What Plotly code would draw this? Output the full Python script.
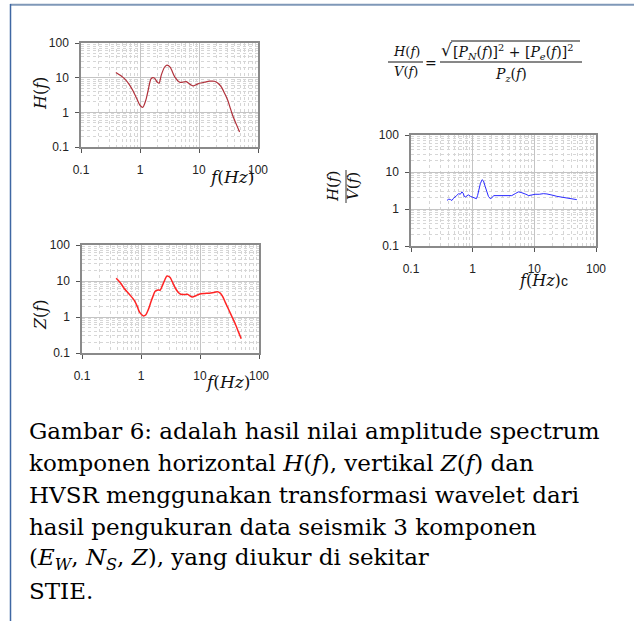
import plotly.graph_objects as go

W, H = 634, 621

# ---------------- data ----------------
tick_vals = [0.1, 1, 10, 100]
tick_text = ["0.1", "1", "10", "100"]

h_freq = [0.39, 0.47, 0.55, 0.65, 0.76, 0.88, 1.0, 1.12, 1.25, 1.37, 1.55, 1.75,
          1.95, 2.1, 2.3, 2.6, 2.86, 3.26, 3.86, 4.7, 5.5, 6.1, 7.0, 7.9, 9.0,
          10.2, 12.5, 15, 18.3, 21, 23.7, 27, 30.8, 34, 37.5, 43, 48.7]
h_amp = [14.2, 11.5, 9.2, 6.5, 4.2, 2.5, 1.6, 1.4, 2.2, 4.2, 9.5, 9.8,
         7.5, 6.9, 12, 20, 23, 19.8, 10.7, 7.4, 7.5, 7.7, 6.5, 5.8, 6.3,
         6.9, 7.4, 7.9, 7.9, 6.9, 5.5, 3.6, 2.2, 1.3, 0.78, 0.45, 0.27]

z_freq = [0.38, 0.45, 0.52, 0.64, 0.77, 0.86, 0.94, 1.03, 1.1, 1.21, 1.33, 1.47,
          1.6, 1.74, 1.95, 2.12, 2.32, 2.55, 2.75, 3.09, 3.5, 3.9, 4.3, 4.73,
          5.4, 6.1, 7.4, 8.5, 9.7, 12, 14.3, 17, 19.7, 22, 24, 27, 31, 35, 40,
          45, 49.9]
z_amp = [11.9, 8.8, 6.2, 4.2, 2.9, 2.0, 1.38, 1.15, 1.07, 1.16, 1.6, 2.6,
         3.8, 5.2, 5.6, 5.6, 7.7, 11, 13.8, 12.7, 8.5, 6.0, 4.8, 4.3,
         4.2, 4.3, 3.6, 3.9, 4.3, 4.5, 4.6, 4.8, 5.0, 4.6, 3.8, 2.5, 1.54, 1.0,
         0.62, 0.38, 0.25]

hv_freq = [0.384, 0.41, 0.435, 0.46, 0.49, 0.52, 0.55, 0.59, 0.63, 0.67, 0.70,
           0.73, 0.77, 0.81, 0.86, 0.92, 1.0, 1.07, 1.15, 1.2, 1.25, 1.33, 1.42,
           1.5, 1.6, 1.7, 1.8, 1.93, 2.05, 2.19, 2.5, 2.8, 3.2, 3.6, 4.0, 4.3,
           4.9, 5.5, 6.1, 6.7, 7.3, 8.1, 9.0, 10.3, 12, 14, 16, 18, 20, 23.2,
           27, 30, 33.6, 38, 43, 48.8]
hv_amp = [1.71, 1.85, 1.8, 1.7, 1.95, 2.2, 2.3, 2.6, 2.5, 2.9, 2.7,
          2.2, 2.1, 2.3, 2.4, 2.2, 2.1, 2.0, 1.9, 2.3, 3.2, 4.8, 6.2,
          5.7, 4.0, 2.9, 2.2, 1.9, 2.0, 2.3, 2.3, 2.3, 2.35, 2.4, 2.3, 2.3,
          2.6, 2.9, 2.8, 2.7, 2.5, 2.3, 2.4, 2.5, 2.5, 2.6, 2.55, 2.5, 2.35, 2.2,
          2.1, 2.05, 2.0, 1.9, 1.8, 1.79]

caption_lines = [
    "Gambar 6: adalah hasil nilai amplitude spectrum",
    "komponen horizontal <i>H</i>(<i>f</i>), vertikal <i>Z</i>(<i>f</i>) dan",
    "HVSR menggunakan transformasi wavelet dari",
    "hasil pengukuran data seismik 3 komponen",
    "(<i>E</i><sub><i>W</i></sub>, <i>N</i><sub><i>S</i></sub>, <i>Z</i>), yang diukur di sekitar",
    "STIE.",
]


def px(x):
    return x / W


def py(y):
    return 1 - y / H


# ---------------- figure ----------------
fig = go.Figure()
fig.add_trace(go.Scatter(x=h_freq, y=h_amp, mode="lines", xaxis="x", yaxis="y",
                         line=dict(color="#b0303a", width=1.2, shape="spline", smoothing=0.7),
                         showlegend=False))
fig.add_trace(go.Scatter(x=hv_freq, y=hv_amp, mode="lines", xaxis="x2", yaxis="y2",
                         line=dict(color="#2b2bff", width=1),
                         showlegend=False))
fig.add_trace(go.Scatter(x=z_freq, y=z_amp, mode="lines", xaxis="x3", yaxis="y3",
                         line=dict(color="#ff2424", width=1.5, shape="spline", smoothing=0.7),
                         showlegend=False))


def axis(domain, anchor, standoff):
    return dict(
        type="log", range=[-1, 2], domain=domain, anchor=anchor,
        tickvals=tick_vals, ticktext=tick_text,
        showline=True, linecolor="#8a8a8a", linewidth=1.5, mirror=True,
        ticks="outside", ticklen=4, tickcolor="#555555", tickwidth=1,
        showgrid=True, gridcolor="#c4c4c4", gridwidth=1,
        minor=dict(showgrid=True, gridcolor="#d6d6d6", griddash="dot",
                   gridwidth=1, dtick="D1", ticks=""),
        tickfont=dict(family="Liberation Sans, Arial", size=12, color="#222222"),
        ticklabelstandoff=standoff,
        zeroline=False, fixedrange=True, automargin=False,
    )


boxes = {
    "1": (81, 258, 43, 147),
    "2": (411, 596, 135, 246),
    "3": (82, 259, 245, 353),
}
layout = dict(width=W, height=H, margin=dict(l=0, r=0, t=0, b=0, pad=0), autosize=False,
              paper_bgcolor="white", plot_bgcolor="white", showlegend=False)
for k, (x0, x1, y0, y1) in boxes.items():
    sfx = "" if k == "1" else k
    layout["xaxis" + sfx] = axis([px(x0), px(x1)], "y" + sfx, 7)
    layout["yaxis" + sfx] = axis([py(y1), py(y0)], "x" + sfx, 4)
fig.update_layout(**layout)

serif = "DejaVu Serif, serif"
ann = []


def note(x, y, text, size, family=serif, angle=0, xanchor="center", color="#111111"):
    ann.append(dict(x=px(x), y=py(y), xref="paper", yref="paper", text=text,
                    showarrow=False, xanchor=xanchor, yanchor="middle",
                    textangle=angle, font=dict(family=family, size=size, color=color)))


# axis titles
note(40, 94, "<i>H</i>(<i>f</i>)", 16, angle=-90)
note(40, 315, "<i>Z</i>(<i>f</i>)", 16, angle=-90)
note(231, 177, "<i>f</i>(<i>Hz</i>)", 17)
note(227, 382, "<i>f</i>(<i>Hz</i>)", 17)
note(540, 280, "<i>f</i>(<i>Hz</i>)", 16)
note(564, 281, "c", 14, family="Liberation Sans, Arial")
note(333, 186, "<i>H</i>(<i>f</i>)", 15, angle=-90)
note(353, 186, "<i>V</i>(<i>f</i>)", 15, angle=-90)

# formula
note(406, 51, "<i>H</i>(<i>f</i>)", 13)
note(406, 72, "<i>V</i>(<i>f</i>)", 13)
note(431, 63, "=", 14)
note(446, 50, "√", 17)
note(513, 52, "[<i>P</i><sub><i>N</i></sub>(<i>f</i>)]<sup>2</sup> + [<i>P</i><sub><i>e</i></sub>(<i>f</i>)]<sup>2</sup>", 14)
note(511, 75, "<i>P</i><sub><i>z</i></sub>(<i>f</i>)", 14)

# caption
for i, line in enumerate(caption_lines):
    note(27, 431 + 32 * i, line, 23, family="DejaVu Serif, serif", xanchor="left", color="#000000")

fig.update_layout(annotations=ann)

shapes = [
    dict(type="line", xref="paper", yref="paper", x0=px(388), x1=px(423), y0=py(62), y1=py(62),
         line=dict(color="#111111", width=1)),
    dict(type="line", xref="paper", yref="paper", x0=px(440), x1=px(582), y0=py(62), y1=py(62),
         line=dict(color="#111111", width=1)),
    dict(type="line", xref="paper", yref="paper", x0=px(451), x1=px(580), y0=py(41), y1=py(41),
         line=dict(color="#111111", width=1)),
    dict(type="line", xref="paper", yref="paper", x0=px(346), x1=px(346), y0=py(170), y1=py(203),
         line=dict(color="#333333", width=1)),
    # frame
    dict(type="line", xref="paper", yref="paper", x0=px(10), x1=1, y0=py(4.8), y1=py(4.8),
         line=dict(color="#7f98b8", width=2)),
    dict(type="line", xref="paper", yref="paper", x0=px(10.5), x1=px(10.5), y0=py(4), y1=0,
         line=dict(color="#3f67a3", width=1.5)),
]
fig.update_layout(shapes=shapes)

fig.write_html("out.html")
